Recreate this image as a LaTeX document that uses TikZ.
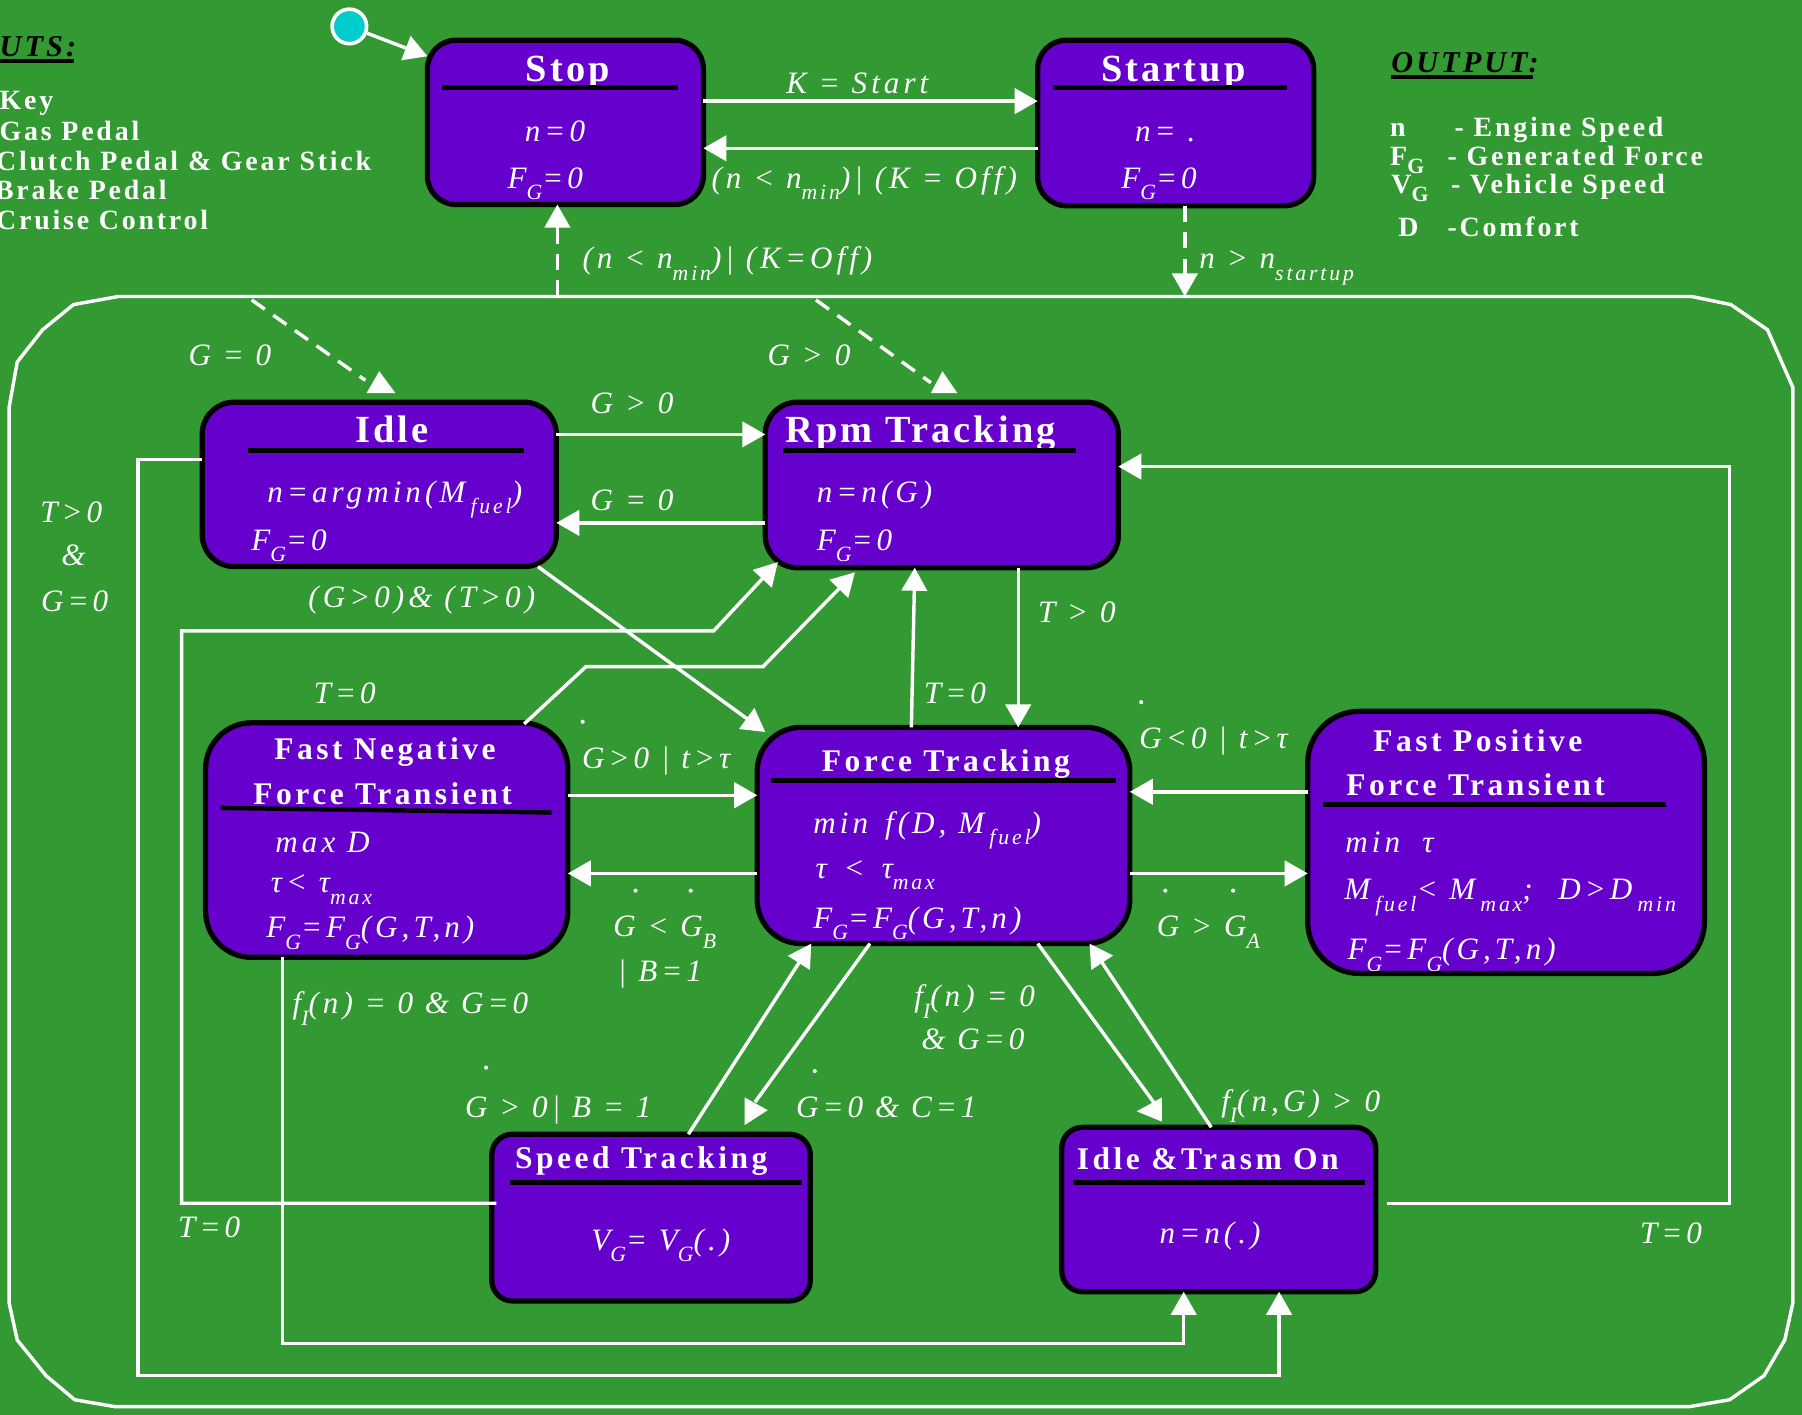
\documentclass[tikz,border=0pt]{standalone}
\usepackage{fontspec}
\setmainfont{Liberation Serif}
\newfontfamily\ttlfam[LetterSpace=8]{Liberation Serif}
\newfontfamily\ttlfamB[LetterSpace=11]{Liberation Serif}
\newfontfamily\lblfam[LetterSpace=13]{Liberation Serif}
\newfontfamily\lgdfam[LetterSpace=10]{Liberation Serif}
\usetikzlibrary{arrows.meta,calc}
\definecolor{bggreen}{RGB}{51,153,51}
\definecolor{statepurple}{RGB}{102,0,204}
\definecolor{initcyan}{RGB}{0,204,204}
% lowered subscripts as used in the state labels and in the legend
\newcommand\dn[1]{\raisebox{-0.8ex}{\scalebox{0.7}{#1}}}
\newcommand\lgdsub[1]{\raisebox{-0.65ex}{\scalebox{0.78}{#1}}}

\tikzset{
  state/.style={draw=black, line width=1.3pt, fill=statepurple, rounded corners=#1, inner sep=0pt, outer sep=0pt},
  state/.default=0.28cm,
  wire/.style={draw=white, line width=0.85pt},
  arr/.style={wire, -{Triangle[length=0.2cm,width=0.22cm]}},
  darr/.style={arr, dash pattern=on 0.14cm off 0.09cm},
  dwire/.style={wire, dash pattern=on 0.14cm off 0.09cm},
  bar/.style={draw=black, line width=1.1pt},
  titleA/.style={text=white, inner sep=0pt, anchor=base, font=\fontsize{9.5}{11}\selectfont\ttlfam\bfseries},
  titleB/.style={text=white, inner sep=0pt, anchor=base, font=\fontsize{7.8}{9}\selectfont\ttlfamB\bfseries},
  lbl/.style={text=white, inner sep=0pt, anchor=base, font=\fontsize{7.7}{9}\selectfont\lblfam\itshape},
  body/.style={lbl, anchor=base west},
  lgd/.style={text=white, inner sep=0pt, anchor=base west, font=\fontsize{6.9}{8}\selectfont\lgdfam\bfseries},
  lgdhead/.style={text=black, inner sep=0pt, anchor=base west, font=\fontsize{7.5}{9}\selectfont\lgdfam\bfseries\itshape},
  gdot/.style={fill=white},
}

\begin{document}
\begin{tikzpicture}[x=0.01cm,y=-0.01cm]
\useasboundingbox (0,0) rectangle (1568,1231);
\fill[bggreen] (0,0) rectangle (1568,1231);

% ---------- legends ----------
\node[lgdhead] (inHead) at (-1,49) {UTS:};
\draw[black, line width=0.8pt] (0,53) -- (64,53);
\node[lgd] (in1) at (-1,95) {Key};
\node[lgd] (in2) at (-1,122) {Gas Pedal};
\node[lgd] (in3) at (-4,148) {Clutch Pedal \& Gear Stick};
\node[lgd] (in4) at (-5,174) {Brake Pedal};
\node[lgd] (in5) at (-4,200) {Cruise Control};

\node[lgdhead] (outHead) at (1210,63) {OUTPUT:};
\draw[black, line width=0.8pt] (1210,67) -- (1334,67);
\node[lgd] (o1a) at (1209,119) {n};
\node[lgd] (o1b) at (1265,119) {- Engine Speed};
\node[lgd] (o2a) at (1209,144) {F\lgdsub{G}};
\node[lgd] (o2b) at (1259,144) {- Generated Force};
\node[lgd] (o3a) at (1210,168) {V\lgdsub{G}};
\node[lgd] (o3b) at (1262,168) {- Vehicle Speed};
\node[lgd] (o4a) at (1216,206) {D};
\node[lgd] (o4b) at (1259,206) {-Comfort};

% ---------- running super-state ----------
\draw[wire] (103,258) -- (64,265) -- (37,287) -- (15,315) -- (8,354) -- (8,1134)
  -- (15,1166) -- (40,1197) -- (65,1218) -- (100,1224) -- (1470,1224) -- (1505,1218)
  -- (1535,1197) -- (1553,1166) -- (1560,1134) -- (1560,337) -- (1538,287)
  -- (1506,265) -- (1472,258) -- cycle;
\coordinate (supStop) at (485,258);
\coordinate (supStart) at (1031,258);
\coordinate (supIdle) at (219,261);
\coordinate (supRpm) at (710,261);

% ---------- states ----------
\node[state=0.25cm, minimum width=2.40cm, minimum height=1.43cm] (stop) at (492,106.5) {};
\node[state=0.25cm, minimum width=2.40cm, minimum height=1.44cm] (startup) at (1023,107) {};
\node[state=0.28cm, minimum width=3.08cm, minimum height=1.43cm] (idle) at (330,421.5) {};
\node[state=0.28cm, minimum width=3.07cm, minimum height=1.44cm] (rpm) at (819.5,422) {};
\node[state=0.40cm, minimum width=3.15cm, minimum height=2.04cm] (fneg) at (336.5,731) {};
\node[state=0.38cm, minimum width=3.24cm, minimum height=1.88cm] (ft) at (821,727) {};
\node[state=0.45cm, minimum width=3.45cm, minimum height=2.28cm] (fpos) at (1310.5,733) {};
\node[state=0.18cm, minimum width=2.77cm, minimum height=1.45cm] (speed) at (566.5,1059.5) {};
\node[state=0.18cm, minimum width=2.73cm, minimum height=1.43cm] (iton) at (1060.5,1052.5) {};

% Stop
\node[titleA] (stopT) at (494,71) {Stop};
\draw[bar] (385,76) -- (590,76);
\node[body] (stopN) at (456,123) {n=0};
\node[body] (stopF) at (441,164) {F\dn{G}=0};
% Startup
\node[titleA] (startT) at (1021,71) {Startup};
\draw[bar] (916,76) -- (1120,76);
\node[body] (startN) at (987,123) {n= .};
\node[body] (startF) at (975,164) {F\dn{G}=0};
% Idle
\node[titleA] (idleT) at (341,385) {Idle};
\draw[bar] (216,392) -- (456,392);
\node[body] (idleN) at (232,437) {n=argmin(M\,\dn{fuel})};
\node[body] (idleF) at (218,479) {F\dn{G}=0};
% Rpm Tracking
\node[titleA, anchor=base west] (rpmT) at (683,385) {Rpm Tracking};
\draw[bar] (681,392) -- (936,392);
\node[body] (rpmN) at (710,437) {n=n(G)};
\node[body] (rpmF) at (710,479) {F\dn{G}=0};
% Force Tracking
\node[titleB] (ftT) at (823,671) {Force Tracking};
\draw[bar] (671,679) -- (971,679);
\node[body] (ftA) at (707,725) {min\, f(D, M\,\dn{fuel})};
\node[body] (ftB) at (709,764) {τ \,<\, τ\dn{max}};
\node[body] (ftC) at (707,808) {F\dn{G}=F\dn{G}(G,T,n)};
% Fast Negative Force Transient
\node[titleB] (fnT1) at (335,661) {Fast Negative};
\node[titleB] (fnT2) at (333,700) {Force Transient};
\draw[bar] (192,703) -- (480,707);
\node[body] (fnA) at (239,742) {max D};
\node[body] (fnB) at (235,777) {τ< τ\dn{max}};
\node[body] (fnC) at (231,816) {F\dn{G}=F\dn{G}(G,T,n)};
% Fast Positive Force Transient
\node[titleB] (fpT1) at (1286,654) {Fast Positive};
\node[titleB] (fpT2) at (1284,692) {Force Transient};
\draw[bar] (1151,700) -- (1450,700);
\node[body] (fpA) at (1170,742) {min\,\, τ};
\node[body] (fpB) at (1169,783) {M\,\dn{fuel}< M\,\dn{max};\;\, D>D\,\dn{min}};
\node[body] (fpC) at (1172,835) {F\dn{G}=F\dn{G}(G,T,n)};
% Speed Tracking
\node[titleB] (stT) at (558,1017) {Speed Tracking};
\draw[bar] (444,1029) -- (698,1029);
\node[lbl] (stA) at (575,1088) {V\dn{G}= V\dn{G}(.)};
% Idle & Trasm On
\node[titleB] (itT) at (1051,1018) {Idle \&Trasm On};
\draw[bar] (934,1029) -- (1188,1029);
\node[lbl] (itA) at (1053,1082) {n=n(.)};

% ---------- initial state ----------
\node[circle, fill=initcyan, draw=white, line width=0.9pt, minimum size=0.3cm, inner sep=0pt] (init) at (304,23) {};
\draw[arr] (init) -- ($(stop.north west)+(0,14)$);

% ---------- transitions ----------
\draw[arr] (stop.east |- 0,88) -- (startup.west |- 0,88);
\node[lbl] (lKs) at (746,81) {K = Start};
\draw[arr] (startup.west |- 0,129) -- (stop.east |- 0,129);
\node[lbl] (lOff1) at (752,164) {(n < n\dn{min})| (K = Off)};

\draw[darr] (supStop) -- (stop.south -| supStop);
\node[lbl] (lOff2) at (633,234) {(n < n\dn{min})| (K=Off)};
\draw[darr] (startup.south -| supStart) -- (supStart);
\node[lbl, anchor=base west] (lNs) at (1043,234) {n > n\dn{startup}};

% entry into Idle / Rpm Tracking
\coordinate (idleHead) at (318,331);
\coordinate (rpmHead) at (810,333);
\draw[dwire] (supIdle) -- (idleHead);
\fill[white] (330,323) -- (344,342) -- (319,342) -- cycle;
\node[lbl] (lG0a) at (200,318) {G = 0};
\draw[dwire] (supRpm) -- (rpmHead);
\fill[white] (820,323) -- (833,342) -- (810,342) -- cycle;
\node[lbl] (lG0b) at (704,318) {G > 0};

\draw[arr] (idle.east |- 0,378) -- (rpm.west |- 0,378);
\node[lbl] (lIR) at (550,360) {G > 0};
\draw[arr] (rpm.west |- 0,455) -- (idle.east |- 0,455);
\node[lbl] (lRI) at (550,444) {G = 0};

\draw[arr] ($(idle.south east)+(-16,0)$) -- ($(ft.north west)+(7,4)$);
\node[lbl] (lIF) at (367,529) {(G>0)\& (T>0)};

\draw[arr] (idle.west |- 0,400) -- (120,400) -- (120,1197) -- (1113,1197) -- (iton.south -| 1113,0);
\node[lbl] (lTa) at (62,455) {T>0};
\node[lbl] (lTb) at (64,492) {\&};
\node[lbl] (lTc) at (65,532) {G=0};

\draw[arr] ($(speed.west |- 0,1047)+(4,0)$) -- (158,1047) -- (158,549) -- (621,549) -- ($(rpm.south west)+(11,-5)$);
\node[lbl] (lST) at (182,1077) {T=0};

\draw[arr] ($(fneg.north east)+(-38,1)$) -- (510,580) -- (664,580) -- ($(rpm.south west)+(78,4)$);
\node[lbl] (lFNR) at (300,612) {T=0};

\draw[arr] (ft.north -| 793,0) -- (rpm.south -| 796,0);
\node[lbl] (lFR) at (831,612) {T=0};
\draw[arr] (rpm.south -| 886,0) -- (ft.north -| 886,0);
\node[lbl] (lRF) at (937,542) {T > 0};

\draw[arr] (fneg.east |- 0,692) -- (ft.west |- 0,692);
\node[lbl] (lNF) at (571,669) {G>0 | t>τ};
\fill[gdot] (507,628) circle (1.8);
\draw[arr] (ft.west |- 0,760) -- (fneg.east |- 0,760);
\node[lbl, anchor=base west] (lFNa) at (533,815) {G < G\dn{B}};
\node[lbl, anchor=base west] (lFNb) at (537,854) {| B=1};
\fill[gdot] (553,775) circle (1.8);
\fill[gdot] (601,775) circle (1.8);

\draw[arr] (fpos.west |- 0,689) -- (ft.east |- 0,689);
\node[lbl] (lPF) at (1056,651) {G<0 | t>τ};
\fill[gdot] (993,611) circle (1.8);
\draw[arr] (ft.east |- 0,760) -- (fpos.west |- 0,760);
\node[lbl, anchor=base west] (lFP) at (1006,815) {G > G\dn{A}};
\fill[gdot] (1014,775) circle (1.8);
\fill[gdot] (1073,775) circle (1.8);

\draw[arr] (fneg.south -| 246,0) -- (246,1169) -- (1030,1169) -- (iton.south -| 1030,0);
\node[lbl, anchor=base west] (lNI) at (254,882) {f\dn{I}(n) = 0 \& G=0};

\draw[arr] (speed.north -| 599,0) -- (ft.south -| 706,0);
\node[lbl, anchor=base west] (lSF) at (404,972) {G > 0| B = 1};
\fill[gdot] (423,929) circle (1.8);

\coordinate (speedHead) at (657,959);
\draw[wire] (ft.south -| 757,0) -- (speedHead);
\fill[white] (648,955) -- (668,966) -- (648,979) -- cycle;
\node[lbl, anchor=base west] (lFS) at (692,972) {G=0 \& C=1};
\fill[gdot] (709,932) circle (1.8);

\coordinate (itonHead) at (1006,962);
\draw[wire] (ft.south -| 903,0) -- (itonHead);
\fill[white] (1011,955) -- (989,967) -- (1011,976) -- cycle;
\node[lbl, anchor=base west] (lFIa) at (795,876) {f\dn{I}(n) = 0};
\node[lbl, anchor=base west] (lFIb) at (801,913) {\& G=0};

\draw[arr] (iton.north -| 1054,0) -- (ft.south -| 948,0);
\node[lbl, anchor=base west] (lIFt) at (1062,967) {f\dn{I}(n,G) > 0};

\draw[arr] ($(iton.east |- 0,1047)+(10,0)$) -- (1505,1047) -- (1505,406) -- (rpm.east |- 0,406);
\node[lbl] (lIR2) at (1454,1082) {T=0};
\end{tikzpicture}
\end{document}
